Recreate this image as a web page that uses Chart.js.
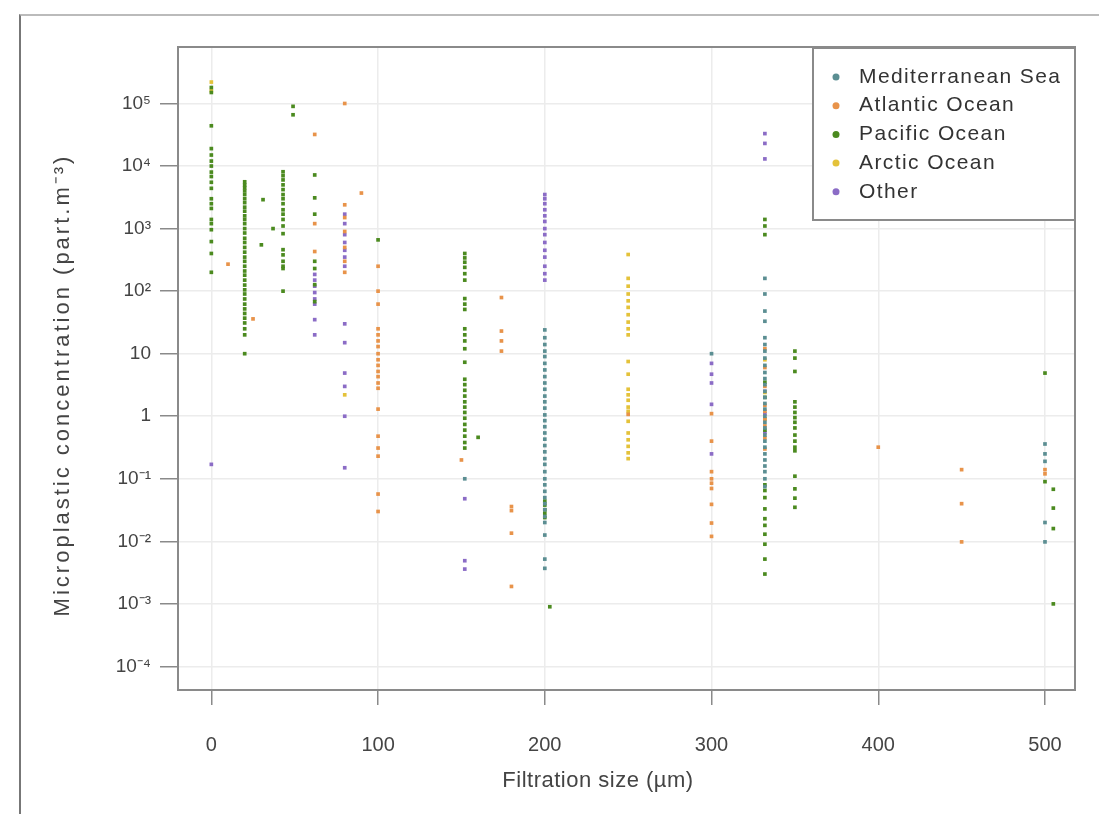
<!DOCTYPE html>
<html>
<head>
<meta charset="utf-8">
<script src="https://cdn.jsdelivr.net/npm/chart.js@4.4.0/dist/chart.umd.min.js"></script>
<style>
  body { margin: 0; background: #fff; overflow: hidden; }
  #frame { position: absolute; left: 19px; top: 14px; width: 1200px; height: 900px;
           border-left: 2px solid #777; border-top: 2px solid #bbb; }
  #chart { position: absolute; left: 0; top: 0; }
</style>
</head>
<body>
<div id="frame"></div>
<canvas id="chart" width="1099" height="814"></canvas>
<script>
// series: [filtration size (µm), concentration (part.m-3)]
const seriesNames = ['Mediterranean Sea', 'Atlantic Ocean', 'Pacific Ocean', 'Arctic Ocean', 'Other'];
const seriesColors = ['#5b8e92', '#e8934a', '#4b8a1f', '#e4c23a', '#8b6cc6'];

const mediterranean = [
  [152, 0.1],
  [200, 24], [200, 18], [200, 14], [200, 11], [200, 9], [200, 7], [200, 5.5], [200, 4.3], [200, 3.4],
  [200, 2.7], [200, 2.1], [200, 1.7], [200, 1.35], [200, 1.05], [200, 0.85], [200, 0.68], [200, 0.54],
  [200, 0.43], [200, 0.34], [200, 0.27], [200, 0.21], [200, 0.17], [200, 0.13], [200, 0.1], [200, 0.08],
  [200, 0.063], [200, 0.05], [200, 0.04], [200, 0.032], [200, 0.025], [200, 0.02], [200, 0.0126],
  [200, 0.0052], [200, 0.0037],
  [300, 10],
  [332, 160], [332, 90], [332, 48], [332, 33], [332, 18], [332, 14], [332, 11], [332, 8.5], [332, 6.5],
  [332, 5], [332, 4], [332, 3.2], [332, 2.5], [332, 2], [332, 1.6], [332, 1.3], [332, 1.0], [332, 0.8],
  [332, 0.65], [332, 0.5], [332, 0.4], [332, 0.32], [332, 0.25], [332, 0.2], [332, 0.16], [332, 0.13],
  [332, 0.1], [332, 0.075],
  [500, 0.36], [500, 0.25], [500, 0.19], [500, 0.02], [500, 0.0098]
];

const atlantic = [
  [10, 270], [25, 36],
  [62, 32000], [62, 1200], [62, 430],
  [80, 100000], [80, 2400], [80, 1500], [80, 900], [80, 500], [80, 300], [80, 200],
  [90, 3700],
  [100, 250], [100, 100], [100, 62], [100, 25], [100, 20], [100, 16], [100, 13], [100, 10], [100, 8],
  [100, 6.5], [100, 5.2], [100, 4.3], [100, 3.4], [100, 2.8], [100, 1.3], [100, 0.48], [100, 0.31],
  [100, 0.23], [100, 0.057], [100, 0.03],
  [150, 0.2],
  [174, 79], [174, 23], [174, 16], [174, 11],
  [180, 0.036], [180, 0.031], [180, 0.0135], [180, 0.0019],
  [250, 1.07],
  [300, 1.1], [300, 0.4], [300, 0.13], [300, 0.1], [300, 0.085], [300, 0.07], [300, 0.039], [300, 0.0196], [300, 0.012],
  [332, 12], [332, 6], [332, 3], [332, 1.5], [332, 1.2], [332, 0.9], [332, 0.7], [332, 0.45], [332, 0.3],
  [400, 0.32],
  [450, 0.14], [450, 0.04], [450, 0.0098],
  [500, 0.14], [500, 0.12]
];

const pacific = [
  [0, 180000], [0, 150000], [0, 44000], [0, 19000], [0, 15000], [0, 12000], [0, 10000], [0, 8000],
  [0, 6800], [0, 5500], [0, 4400], [0, 3000], [0, 2500], [0, 2100], [0, 1400], [0, 1200], [0, 960],
  [0, 620], [0, 400], [0, 200],
  [20, 5600], [20, 5000], [20, 4500], [20, 4000], [20, 3500], [20, 3000], [20, 2600], [20, 2200],
  [20, 1900], [20, 1600], [20, 1400], [20, 1200], [20, 1000], [20, 850], [20, 700], [20, 600], [20, 500],
  [20, 420], [20, 350], [20, 300], [20, 250], [20, 210], [20, 180], [20, 150], [20, 125], [20, 105],
  [20, 90], [20, 75], [20, 62], [20, 52], [20, 44], [20, 37], [20, 31], [20, 25], [20, 20], [20, 10],
  [30, 550], [31, 2900], [37, 1000],
  [43, 8100], [43, 7000], [43, 6000], [43, 5000], [43, 4200], [43, 3500], [43, 3000], [43, 2500],
  [43, 2000], [43, 1700], [43, 1400], [43, 1100], [43, 830], [43, 460], [43, 380], [43, 300], [43, 250],
  [43, 230], [43, 100],
  [49, 90000], [49, 66000],
  [62, 7200], [62, 3100], [62, 1700], [62, 300], [62, 230], [62, 127], [62, 68],
  [100, 660],
  [152, 400], [152, 340], [152, 290], [152, 240], [152, 190], [152, 150], [152, 76], [152, 62], [152, 51],
  [152, 25], [152, 20], [152, 16], [152, 12], [152, 7.3], [152, 3.9], [152, 3.2], [152, 2.6], [152, 2.1],
  [152, 1.7], [152, 1.4], [152, 1.15], [152, 0.93], [152, 0.74], [152, 0.6], [152, 0.48], [152, 0.38],
  [152, 0.31],
  [160, 0.46],
  [200, 0.044], [200, 0.038], [200, 0.032], [200, 0.028], [200, 0.024], [203, 0.0009],
  [332, 1400], [332, 1100], [332, 800], [332, 3.5], [332, 2], [332, 0.6], [332, 0.08], [332, 0.065],
  [332, 0.05], [332, 0.033], [332, 0.023], [332, 0.018], [332, 0.013], [332, 0.009], [332, 0.0052],
  [332, 0.003],
  [350, 11], [350, 8.5], [350, 5.2], [350, 1.7], [350, 1.4], [350, 1.15], [350, 0.95], [350, 0.8],
  [350, 0.65], [350, 0.5], [350, 0.4], [350, 0.32], [350, 0.28], [350, 0.11], [350, 0.069], [350, 0.049],
  [350, 0.035],
  [500, 4.9], [500, 0.09],
  [505, 0.068], [505, 0.034], [505, 0.016], [505, 0.001]
];

const arctic = [
  [0, 220000], [0, 160000],
  [80, 2.2],
  [250, 385], [250, 160], [250, 120], [250, 90], [250, 70], [250, 55], [250, 42], [250, 32], [250, 25],
  [250, 20], [250, 7.5], [250, 4.7], [250, 2.7], [250, 2.2], [250, 1.8], [250, 1.4], [250, 1.2],
  [250, 0.83], [250, 0.54], [250, 0.42], [250, 0.33], [250, 0.26], [250, 0.21],
  [332, 8], [332, 2.4], [332, 0.9]
];

const other = [
  [0, 0.17],
  [62, 185], [62, 150], [62, 120], [62, 95], [62, 75], [62, 62], [62, 35], [62, 20],
  [80, 1700], [80, 1200], [80, 800], [80, 600], [80, 450], [80, 350], [80, 250], [80, 30], [80, 15],
  [80, 4.9], [80, 3], [80, 1], [80, 0.15],
  [152, 0.048], [152, 0.0049], [152, 0.0036],
  [200, 3500], [200, 3000], [200, 2500], [200, 2000], [200, 1600], [200, 1300], [200, 1000], [200, 800],
  [200, 600], [200, 450], [200, 350], [200, 250], [200, 190], [200, 150],
  [300, 7], [300, 4.7], [300, 3.4], [300, 1.55], [300, 0.25],
  [332, 33000], [332, 23000], [332, 13000], [332, 2.5], [332, 1.1], [332, 0.55]
];

const xTicks = [0, 100, 200, 300, 400, 500];
const yTicks = [1e-4, 1e-3, 1e-2, 1e-1, 1, 10, 1e2, 1e3, 1e4, 1e5];
const yTickLabels = ['10⁻⁴', '10⁻³', '10⁻²', '10⁻¹', '1', '10', '10²', '10³', '10⁴', '10⁵'];
const xTitle = 'Filtration size (µm)';
const yTitle = 'Microplastic concentration (part.m⁻³)';

const allSeries = [mediterranean, atlantic, pacific, arctic, other];

// plot frame, axis titles and the legend box in the top right corner
const frameAndLegend = {
  id: 'frameAndLegend',
  afterDraw(chart) {
    const ctx = chart.ctx;
    const a = chart.chartArea;
    ctx.save();
    ctx.strokeStyle = '#8a8a8a';
    ctx.lineWidth = 2;
    ctx.strokeRect(a.left, a.top, a.right - a.left, a.bottom - a.top);

    // axis titles
    ctx.fillStyle = '#444';
    ctx.textAlign = 'center';
    ctx.textBaseline = 'middle';
    ctx.font = '22px "Liberation Sans", Arial, sans-serif';
    ctx.letterSpacing = '0.5px';
    ctx.fillText(xTitle, 598, 781);
    ctx.save();
    ctx.translate(63, 385);
    ctx.rotate(-Math.PI / 2);
    ctx.letterSpacing = '3px';
    ctx.fillText(yTitle, 0, 0);
    ctx.restore();

    const bx = a.right - 262, by = a.top + 1, bw = 262, bh = 172;
    ctx.fillStyle = '#fff';
    ctx.fillRect(bx, by, bw, bh);
    ctx.strokeStyle = '#8a8a8a';
    ctx.strokeRect(bx, by, bw, bh);
    ctx.font = '21px "Liberation Sans", Arial, sans-serif';
    ctx.letterSpacing = '1.4px';
    ctx.textAlign = 'left';
    chart.data.datasets.forEach((ds, i) => {
      const y = by + 29 + i * 28.7;
      ctx.fillStyle = ds.backgroundColor;
      ctx.beginPath();
      ctx.arc(bx + 23, y, 3.5, 0, Math.PI * 2);
      ctx.fill();
      ctx.fillStyle = '#333';
      ctx.fillText(ds.label, bx + 46, y);
    });
    ctx.restore();
  }
};

new Chart(document.getElementById('chart'), {
  type: 'scatter',
  data: {
    datasets: seriesNames.map((name, i) => ({
      label: name,
      data: allSeries[i].map(p => ({x: p[0], y: p[1]})),
      backgroundColor: seriesColors[i],
      borderWidth: 0,
      pointStyle: 'rect',
      pointRadius: 2.6
    }))
  },
  options: {
    responsive: false,
    animation: false,
    layout: { padding: { top: 47, right: 24, left: 0, bottom: 0 } },
    plugins: { legend: { display: false }, tooltip: { enabled: false } },
    scales: {
      x: {
        type: 'linear',
        min: -20,
        max: 518,
        afterBuildTicks: s => { s.ticks = xTicks.map(v => ({value: v})); },
        afterFit: s => { s.height = 124; },
        ticks: {
          color: '#444',
          padding: 28,
          font: { family: '"Liberation Sans", Arial, sans-serif', size: 20 },
          callback: v => String(v)
        },
        grid: { color: '#ececec', tickColor: '#8a8a8a', tickLength: 15, lineWidth: 1.5 },
        border: { color: '#8a8a8a', width: 2 }
      },
      y: {
        type: 'logarithmic',
        min: 4.2e-5,
        max: 8e5,
        afterBuildTicks: s => { s.ticks = yTicks.map(v => ({value: v})); },
        afterFit: s => { s.width = 178; },
        ticks: {
          color: '#444',
          padding: 9,
          font: { family: '"Liberation Sans", Arial, sans-serif', size: 19 },
          callback: v => yTickLabels[yTicks.indexOf(v)] ?? ''
        },
        grid: { color: '#ececec', tickColor: '#8a8a8a', tickLength: 18, lineWidth: 1.5 },
        border: { color: '#8a8a8a', width: 2 }
      }
    }
  },
  plugins: [frameAndLegend]
});
</script>
</body>
</html>
